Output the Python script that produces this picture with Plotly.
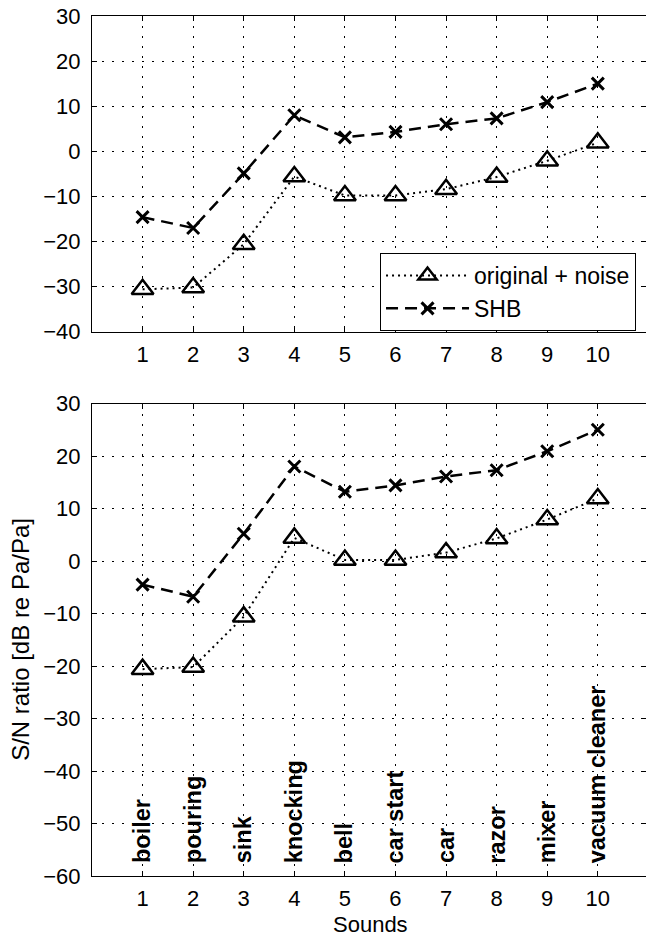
import plotly.graph_objects as go

# Sound index and names
sounds = [1, 2, 3, 4, 5, 6, 7, 8, 9, 10]
sound_names = ["boiler", "pouring", "sink", "knocking", "bell",
               "car start", "car", "razor", "mixer", "vacuum cleaner"]

# Upper panel: S/N ratio [dB]
orig_noise_top = [-30.6, -30.2, -20.6, -5.6, -9.8, -9.8, -8.4, -5.7, -2.1, 1.9]
shb_top = [-14.6, -17.0, -4.9, 8.0, 3.1, 4.3, 6.0, 7.3, 10.9, 15.0]

# Lower panel: S/N ratio [dB]
orig_noise_bottom = [-20.6, -20.2, -10.6, 4.4, 0.2, 0.2, 1.6, 4.3, 7.9, 11.9]
shb_bottom = [-4.5, -6.8, 5.2, 18.0, 13.2, 14.4, 16.1, 17.3, 20.9, 25.0]

y_ticks_top = [-40, -30, -20, -10, 0, 10, 20, 30]
y_ticks_bottom = [-60, -50, -40, -30, -20, -10, 0, 10, 20, 30]

FONT = "Liberation Sans, Arial, Helvetica, sans-serif"
TICK_SIZE = 22

fig = go.Figure()


def add_panel(xa, ya, y_orig, y_shb, legend):
    fig.add_trace(go.Scatter(
        x=sounds, y=y_orig, xaxis=xa, yaxis=ya, mode="lines+markers",
        name="original + noise", showlegend=legend,
        line=dict(color="black", width=2, dash="2px,4px"),
        marker=dict(symbol="triangle-up-open", size=19, color="black",
                    line=dict(color="black", width=2.5)),
    ))
    fig.add_trace(go.Scatter(
        x=sounds, y=y_shb, xaxis=xa, yaxis=ya, mode="lines+markers",
        name="SHB", showlegend=legend,
        line=dict(color="black", width=2.5, dash="12px,7px"),
        marker=dict(symbol="x-thin-open", size=12, color="black",
                    line=dict(color="black", width=3)),
    ))


add_panel("x", "y", orig_noise_top, shb_top, True)
add_panel("x2", "y2", orig_noise_bottom, shb_bottom, False)

# empty traces so the right-hand tick axes are drawn
fig.add_trace(go.Scatter(x=[], y=[], xaxis="x", yaxis="y3", showlegend=False, hoverinfo="skip"))
fig.add_trace(go.Scatter(x=[], y=[], xaxis="x2", yaxis="y4", showlegend=False, hoverinfo="skip"))

x_common = dict(
    range=[0, 10.953], tickvals=sounds, ticks="inside", ticklen=5,
    tickcolor="black", showline=True, linecolor="black", linewidth=1,
    mirror="ticks", showgrid=True, gridcolor="black", gridwidth=1,
    griddash="2px,8px", zeroline=False, ticklabelstandoff=3,
    tickfont=dict(family=FONT, size=TICK_SIZE, color="black"),
)
y_common = dict(
    ticks="inside", ticklen=5, tickcolor="black", showline=True,
    linecolor="black", linewidth=1, mirror=False, showgrid=True,
    gridcolor="black", gridwidth=1, griddash="2px,8px", zeroline=False,
    ticklabelstandoff=6,
    tickfont=dict(family=FONT, size=TICK_SIZE, color="black"),
)
y_right = dict(
    side="right", ticks="inside", ticklen=5, tickcolor="black",
    showticklabels=False, showgrid=False, showline=False, zeroline=False,
)

top_dom = [0.6329, 1.0]
bot_dom = [0.0, 0.5494]

fig.update_layout(
    width=646, height=939,
    margin=dict(l=92, r=0, t=16, b=63),
    paper_bgcolor="white", plot_bgcolor="white",
    font=dict(family=FONT, color="black"),
    xaxis=dict(anchor="y", domain=[0, 1], **x_common),
    yaxis=dict(anchor="x", domain=top_dom, range=[-40, 30],
               tickvals=y_ticks_top, **y_common),
    yaxis3=dict(anchor="x", overlaying="y", range=[-40, 30],
                tickvals=y_ticks_top, **y_right),
    xaxis2=dict(anchor="y2", domain=[0, 1], **x_common),
    yaxis2=dict(anchor="x2", domain=bot_dom, range=[-60, 30],
                tickvals=y_ticks_bottom, **y_common),
    yaxis4=dict(anchor="x2", overlaying="y2", range=[-60, 30],
                tickvals=y_ticks_bottom, **y_right),
    legend=dict(
        x=0.982, y=0.7244, xanchor="right", yanchor="top",
        bgcolor="white", bordercolor="black", borderwidth=1,
        font=dict(family=FONT, size=23, color="black"),
        itemwidth=83, tracegroupgap=0,
    ),
    showlegend=True,
)

annotations = []
for s, name in zip(sounds, sound_names):
    annotations.append(dict(
        x=s, y=-58, xref="x2", yref="y2", text=f"<b>{name}</b>",
        textangle=-90, xanchor="center", yanchor="bottom", showarrow=False,
        font=dict(family=FONT, size=23.5, color="black"),
    ))
annotations.append(dict(
    x=-0.128, y=(bot_dom[0] + bot_dom[1]) / 2, xref="paper", yref="paper",
    text="S/N ratio [dB re Pa/Pa]", textangle=-90, showarrow=False,
    xanchor="center", yanchor="middle",
    font=dict(family=FONT, size=24, color="black"),
))
annotations.append(dict(
    x=0.502, y=-0.07326, xref="paper", yref="paper", text="Sounds",
    showarrow=False, xanchor="center", yanchor="bottom",
    font=dict(family=FONT, size=22, color="black"),
))
fig.update_layout(annotations=annotations)

fig.write_html("out.html")
